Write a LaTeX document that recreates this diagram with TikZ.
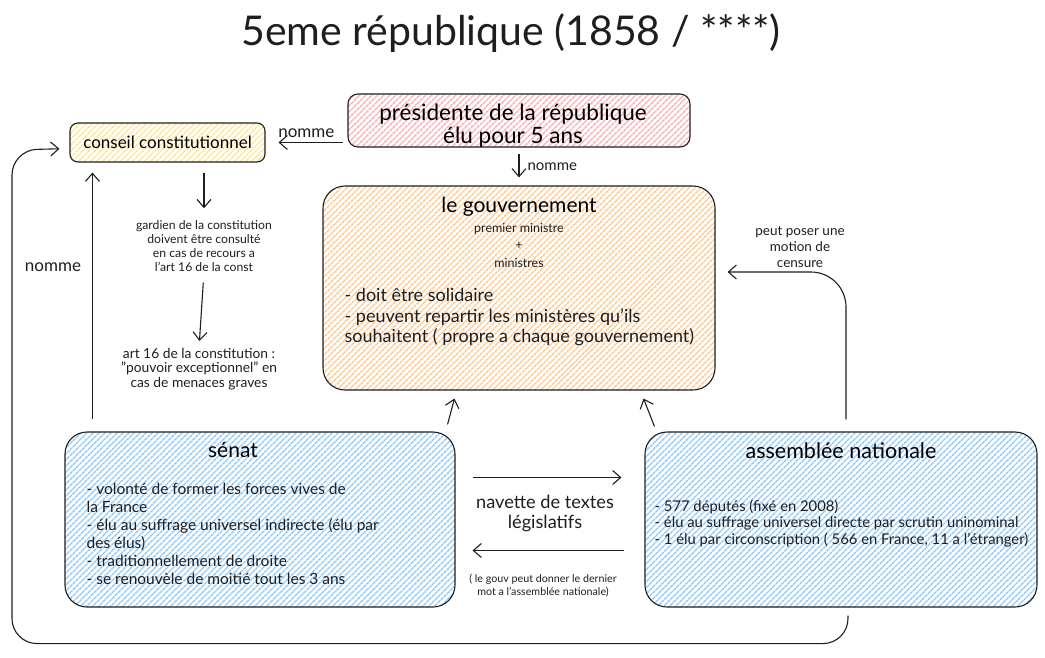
\documentclass[tikz,border=0pt]{standalone}
\usepackage{fontspec}
\setmainfont{Lato}
\usetikzlibrary{arrows.meta, positioning, patterns.meta}
\definecolor{HatchPink}{RGB}{252,172,176}
\definecolor{HatchYellow}{RGB}{255,228,135}
\definecolor{HatchOrange}{RGB}{255,198,135}
\definecolor{HatchBlue}{RGB}{138,200,252}
\definecolor{InkGrey}{RGB}{30,30,30}

\begin{document}
\begin{tikzpicture}[x=1pt, y=-1pt, node distance=6pt,
    box/.style={draw=InkGrey, line width=1.1pt, inner sep=0pt},
    hatch/.style={pattern={Lines[angle=45, distance=4pt, line width=1.5pt]}, pattern color=#1},
    arr/.style={-{Straight Barb[length=8pt, width=14pt]}, line width=1.1pt, InkGrey},
    note/.style={font=\fontsize{12}{14}\selectfont, align=center, inner sep=0pt, text=InkGrey},
    nomme/.style={font=\fontsize{17}{20}\selectfont, inner sep=2pt, text=InkGrey},
    listing/.style={align=left, anchor=north west, inner sep=0pt, text=InkGrey}]

    \useasboundingbox (0,0) rectangle (1045,657);

    % Title
    \node[font=\fontsize{41}{45}\selectfont, text=InkGrey] (head) at (511,33) {5eme république (1858 / ****)};

    % Boxes
    \node[box, hatch=HatchPink, minimum width=342pt, minimum height=53pt, rounded corners=10pt] (pres) at (519,120.5) {};
    \node[box, hatch=HatchYellow, minimum width=195pt, minimum height=39pt, rounded corners=8pt,
          font=\fontsize{17}{20}\selectfont] (cons) at (167.5,142.5) {conseil constitutionnel};
    \node[box, hatch=HatchOrange, minimum width=392pt, minimum height=204pt, rounded corners=22pt] (gouv) at (519,288) {};
    \node[box, hatch=HatchBlue, minimum width=390pt, minimum height=175pt, rounded corners=22pt] (sen) at (260,519.5) {};
    \node[box, hatch=HatchBlue, minimum width=392pt, minimum height=175pt, rounded corners=22pt] (asm) at (841,519.5) {};

    % Box contents
    \node[font=\fontsize{22.5}{23}\selectfont, align=center, inner sep=0pt] (presT) at ([xshift=-6pt,yshift=-5pt]pres.center)
        {présidente de la république\\élu pour 5 ans};
    \node[font=\fontsize{21}{24}\selectfont, inner sep=0pt] (gouvT) at ([yshift=-21pt]gouv.north) {le gouvernement};
    \node[note, font=\fontsize{12.5}{17.5}\selectfont] (gouvM) at ([yshift=-60pt]gouv.north) {premier ministre\\+\\ministres};
    \node[listing, font=\fontsize{18}{20.5}\selectfont] (gouvL) at ([xshift=22pt,yshift=-103pt]gouv.north west)
        {- doit être solidaire\\- peuvent repartir les ministères qu'ils\\souhaitent ( propre a chaque gouvernement)};

    \node[font=\fontsize{21}{24}\selectfont, inner sep=0pt] (senT) at ([xshift=-27pt,yshift=-19pt]sen.north) {sénat};
    \node[listing, font=\fontsize{15.5}{18}\selectfont] (senL) at ([xshift=22pt,yshift=-51pt]sen.north west)
        {- volonté de former les forces vives de\\la France\\- élu au suffrage universel indirecte (élu par\\des élus)\\- traditionnellement de droite\\- se renouvèle de moitié tout les 3 ans};

    \node[font=\fontsize{21.5}{24}\selectfont, inner sep=0pt] (asmT) at ([yshift=-19pt]asm.north) {assemblée nationale};
    \node[listing, font=\fontsize{14.8}{16.5}\selectfont] (asmL) at ([xshift=10pt,yshift=-68pt]asm.north west)
        {- 577 députés (fixé en 2008)\\- élu au suffrage universel directe par scrutin uninominal\\- 1 élu par circonscription ( 566 en France, 11 a l'étranger)};

    % Free notes
    \node[note, font=\fontsize{12.2}{14}\selectfont] (gardien) at (204,246) {gardien de la constitution\\doivent être consulté\\en cas de recours a\\l'art 16 de la const};
    \node[note, font=\fontsize{13.8}{14.5}\selectfont] (art16) at (199,369) {art 16 de la constitution :\\"pouvoir exceptionnel" en\\cas de menaces graves};
    \node[note, font=\fontsize{13.5}{16}\selectfont] (censure) at (800,247) {peut poser une\\motion de\\censure};
    \node[note, font=\fontsize{18.2}{20}\selectfont] (navette) at (545,513) {navette de textes\\législatifs};
    \node[note, font=\fontsize{10.7}{13}\selectfont] (dernier) at (543,586) {( le gouv peut donner le dernier\\mot a l'assemblée nationale)};
    \node[nomme] (nommeG) at (53,267) {nomme};

    % Connectors
    \draw[arr, shorten <=4pt, shorten >=13pt] (pres.west |- cons.east) -- node[nomme, above=2pt]{nomme} (cons.east);
    \draw[arr, shorten <=6pt, shorten >=8pt] (pres.south) -- node[nomme, right=6pt, font=\fontsize{15}{18}\selectfont]{nomme} (gouv.north);
    \draw[arr, shorten <=10pt, shorten >=12pt] (gardien.north |- cons.south) -- (gardien.north);
    \draw[arr, shorten <=11pt, shorten >=7pt] (gardien.south) -- (art16.north);

    \coordinate (senUp) at ([xshift=28pt]sen.north west);
    \draw[arr, shorten <=12pt, shorten >=10pt] (senUp) -- (senUp |- cons.south);
    \draw[arr, rounded corners=25pt, shorten <=8pt, shorten >=10pt]
        ([xshift=7pt]asm.south) -- ++(0,36) -| (12,150) -- ([yshift=-6pt]cons.west);

    \coordinate (censA) at ([xshift=5pt]asm.north);
    \draw[arr, rounded corners=35pt, shorten <=12pt, shorten >=12pt] (censA) |- ([yshift=16pt]gouv.east);

    \draw[arr] ([xshift=-8pt,yshift=7pt]sen.north east) -- ([xshift=132pt,yshift=-8pt]gouv.south west);
    \draw[arr] ([xshift=10pt,yshift=5pt]asm.north west) -- ([xshift=-72pt,yshift=-8pt]gouv.south east);

    \draw[arr] ([xshift=17pt,yshift=42pt]sen.east) -- ([xshift=-23pt,yshift=42pt]asm.west);
    \draw[arr] ([xshift=-20pt,yshift=-31pt]asm.west) -- ([xshift=17pt,yshift=-31pt]sen.east);
\end{tikzpicture}
\end{document}
